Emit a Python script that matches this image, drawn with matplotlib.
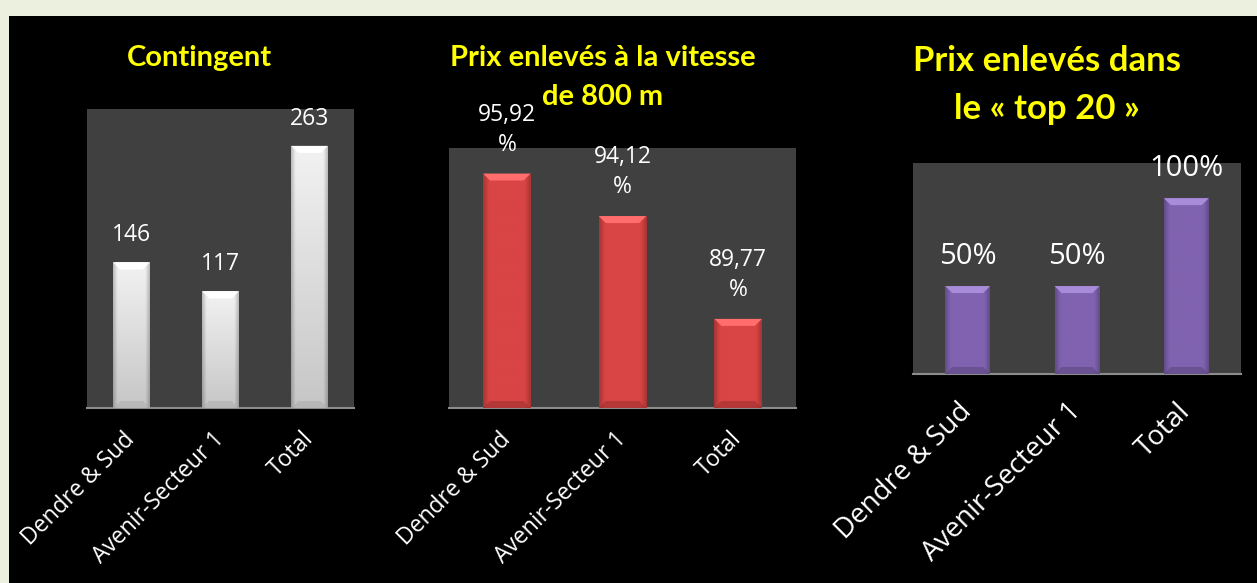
"""Trois histogrammes sur fond noir: contingent, prix à 800 m, prix dans le top 20."""
import numpy as np
import matplotlib.pyplot as plt
from matplotlib.colors import to_rgb
from matplotlib.patches import Rectangle, Polygon

categories = ["Dendre & Sud", "Avenir-Secteur 1", "Total"]
contingent = [146, 117, 263]
vitesse_800 = [95.92, 94.12, 89.77]
top_20 = [0.50, 0.50, 1.00]

contingent_labels = ["146", "117", "263"]
vitesse_labels = ["95,92\n%", "94,12\n%", "89,77\n%"]
top_20_labels = ["50%", "50%", "100%"]

titles = [["Contingent"],
          ["Prix enlevés à la vitesse", "de 800 m"],
          ["Prix enlevés dans", "le « top 20 »"]]

plt.rcParams["font.family"] = ["Open Sans", "DejaVu Sans"]

W, H = 1257, 583
fig = plt.figure(figsize=(W / 100, H / 100), dpi=100, facecolor="#EBF1DE")
fig.patches.append(Rectangle((9 / W, 0), 1, 1 - 16 / H, transform=fig.transFigure,
                             facecolor="black", edgecolor="none", zorder=-5))


def px_axes(x0, y0, x1, y1):
    return fig.add_axes([x0 / W, 1 - y1 / H, (x1 - x0) / W, (y1 - y0) / H])


def bevel_bars(ax, values, color, ylim, white=False):
    ax.set_xlim(-0.5, 2.5)
    ax.set_ylim(*ylim)
    bars = ax.bar(range(len(values)), values, width=0.41, color=color,
                  edgecolor="none", zorder=2)
    base = np.array(to_rgb(color))
    xs = np.linspace(0, 1, 60)
    ys = np.linspace(0, 1, 60)
    X, Y = np.meshgrid(xs, ys)
    edge = np.clip(np.minimum(X, 1 - X) / 0.12, 0, 1)
    shade = 0.78 + 0.22 * edge
    if white:
        shade = shade * (0.82 + 0.18 * Y)
    img = np.clip(base[None, None, :] * shade[..., None], 0, 1)
    bb = ax.get_window_extent()
    dy = 7 * (ylim[1] - ylim[0]) / bb.height
    dx = 7 * 3 / bb.width
    light = np.clip(base + 0.16, 0, 1)
    dark = base * 0.72
    for b in bars:
        x0, w, top = b.get_x(), b.get_width(), b.get_height()
        im = ax.imshow(img, extent=[x0, x0 + w, ylim[0], top], origin="lower",
                       aspect="auto", zorder=3)
        im.set_clip_path(b)
        # biseau clair en haut, sombre en bas
        ax.add_patch(Polygon([(x0, top), (x0 + w, top), (x0 + w - dx, top - dy),
                              (x0 + dx, top - dy)], closed=True,
                             facecolor=light, edgecolor="none", zorder=4))
        ax.add_patch(Polygon([(x0, ylim[0]), (x0 + w, ylim[0]),
                              (x0 + w - dx, ylim[0] + dy), (x0 + dx, ylim[0] + dy)],
                             closed=True, facecolor=dark, edgecolor="none",
                             alpha=0.6, zorder=4))
    ax.set_xlim(-0.5, 2.5)
    ax.set_ylim(*ylim)
    return bars


def style(ax, fontsize, pad):
    ax.set_facecolor("#404040")
    for s in ["top", "right", "left"]:
        ax.spines[s].set_visible(False)
    ax.spines["bottom"].set_color("#8C8C8C")
    ax.spines["bottom"].set_linewidth(1.5)
    ax.set_yticks([])
    ax.set_xticks(range(len(categories)))
    ax.set_xticklabels(categories, rotation=45, ha="right", va="center",
                       rotation_mode="anchor", color="white", fontsize=fontsize)
    ax.tick_params(axis="x", length=0, pad=pad)


def value_labels(ax, bars, labels, fontsize, offset):
    for b, lab in zip(bars, labels):
        ax.annotate(lab, (b.get_x() + b.get_width() / 2, b.get_height()),
                    xytext=(0, offset), textcoords="offset points",
                    ha="center", va="center", color="white", fontsize=fontsize,
                    linespacing=1.35, zorder=5, annotation_clip=False)


def title_lines(lines, x, ys, fontsize):
    for line, y in zip(lines, ys):
        fig.text(x / W, 1 - y / H, line, ha="center", va="center", color="#FFFF00",
                 fontsize=fontsize, fontweight="bold", family=["Lato", "DejaVu Sans"])


ax1 = px_axes(87, 109, 354, 408)
ax2 = px_axes(449, 148, 796, 408)
ax3 = px_axes(913, 163, 1241, 374)

b1 = bevel_bars(ax1, contingent, "#F2F2F2", (0, 300), white=True)
b2 = bevel_bars(ax2, vitesse_800, "#D94444", (86, 97))
b3 = bevel_bars(ax3, top_20, "#8063B0", (0, 1.2))

style(ax1, 16.5, 20)
style(ax2, 16.5, 20)
style(ax3, 20, 24)

value_labels(ax1, b1, contingent_labels, 16.5, 19.5)
value_labels(ax2, b2, vitesse_labels, 16.5, 31.5)
value_labels(ax3, b3, top_20_labels, 21, 21)

title_lines(titles[0], 199, [58], 21)
title_lines(titles[1], 603, [58, 97], 21)
title_lines(titles[2], 1047, [61, 109], 25)

fig.savefig("out.png", dpi=100, facecolor=fig.get_facecolor())
